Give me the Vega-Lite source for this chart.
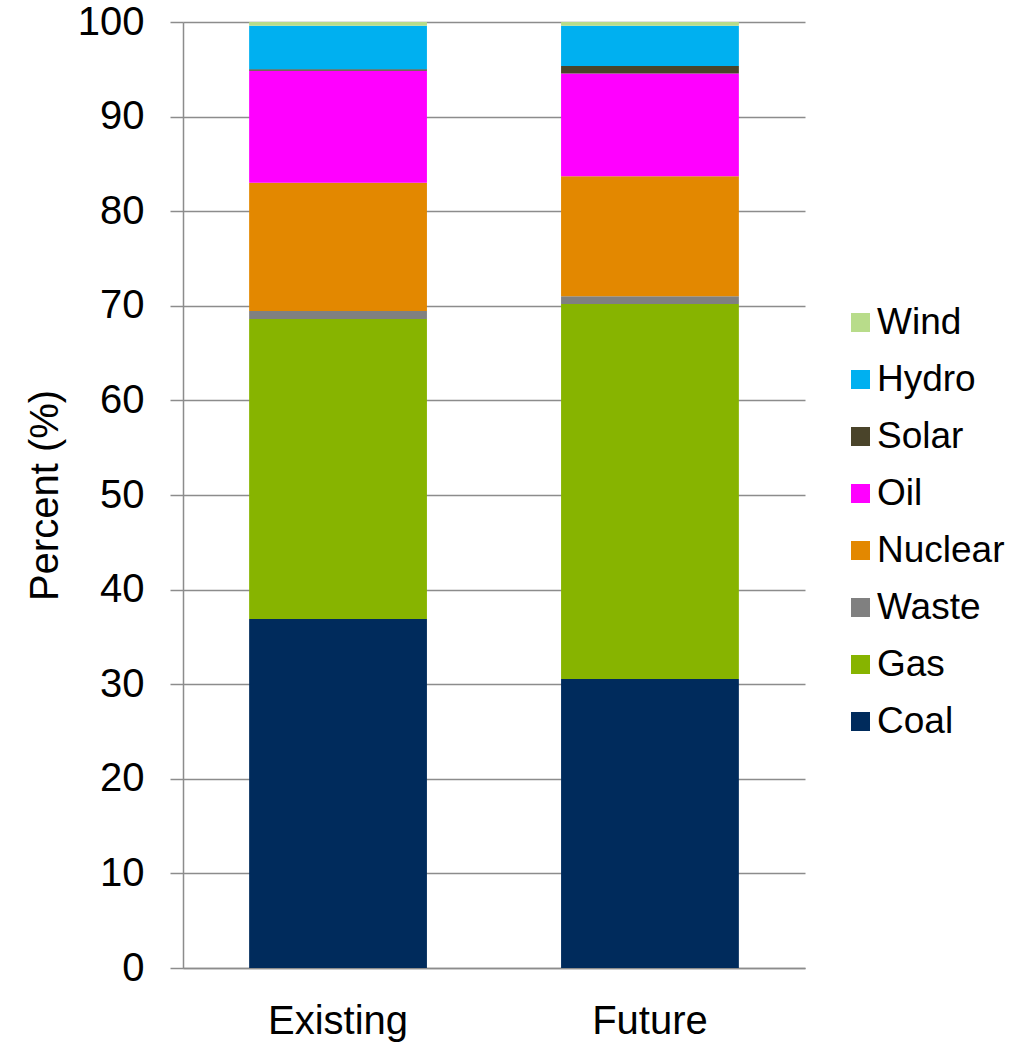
{
  "$schema": "https://vega.github.io/schema/vega-lite/v6.json",
  "width": 622,
  "height": 946,
  "autosize": {"type": "none"},
  "padding": {"left": 183, "top": 22, "right": 214, "bottom": 76},
  "background": "white",
  "config": {
    "font": "Liberation Sans",
    "view": {"stroke": null}
  },
  "data": {
    "values": [
      {"scenario": "Existing", "source": "Coal", "rank": 1, "percent": 36.9},
      {"scenario": "Existing", "source": "Gas", "rank": 2, "percent": 31.7},
      {"scenario": "Existing", "source": "Waste", "rank": 3, "percent": 0.85},
      {"scenario": "Existing", "source": "Nuclear", "rank": 4, "percent": 13.55},
      {"scenario": "Existing", "source": "Oil", "rank": 5, "percent": 11.85},
      {"scenario": "Existing", "source": "Solar", "rank": 6, "percent": 0.15},
      {"scenario": "Existing", "source": "Hydro", "rank": 7, "percent": 4.6},
      {"scenario": "Existing", "source": "Wind", "rank": 8, "percent": 0.4},
      {"scenario": "Future", "source": "Coal", "rank": 1, "percent": 30.55},
      {"scenario": "Future", "source": "Gas", "rank": 2, "percent": 39.65},
      {"scenario": "Future", "source": "Waste", "rank": 3, "percent": 0.8},
      {"scenario": "Future", "source": "Nuclear", "rank": 4, "percent": 12.7},
      {"scenario": "Future", "source": "Oil", "rank": 5, "percent": 10.85},
      {"scenario": "Future", "source": "Solar", "rank": 6, "percent": 0.8},
      {"scenario": "Future", "source": "Hydro", "rank": 7, "percent": 4.25},
      {"scenario": "Future", "source": "Wind", "rank": 8, "percent": 0.4}
    ]
  },
  "mark": {"type": "bar"},
  "encoding": {
    "x": {
      "field": "scenario",
      "type": "nominal",
      "sort": ["Existing", "Future"],
      "scale": {"paddingInner": 0.43, "paddingOuter": 0.212},
      "axis": {
        "title": null,
        "labelAngle": 0,
        "labelFontSize": 40,
        "labelColor": "black",
        "labelPadding": 33,
        "ticks": false,
        "domainColor": "#8c8c8c",
        "domainWidth": 1.5,
        "grid": false
      }
    },
    "y": {
      "field": "percent",
      "type": "quantitative",
      "stack": "zero",
      "scale": {"domain": [0, 100], "nice": false},
      "axis": {
        "title": "Percent (%)",
        "titleFontSize": 40,
        "titleFontWeight": "normal",
        "titleColor": "black",
        "titlePadding": 12,
        "values": [0, 10, 20, 30, 40, 50, 60, 70, 80, 90, 100],
        "labelFontSize": 40,
        "labelColor": "black",
        "labelPadding": 26,
        "tickSize": 13,
        "tickColor": "#8c8c8c",
        "tickWidth": 1.5,
        "domainColor": "#8c8c8c",
        "domainWidth": 1.5,
        "grid": true,
        "gridColor": "#8c8c8c",
        "gridWidth": 1.5
      }
    },
    "color": {
      "field": "source",
      "type": "nominal",
      "scale": {
        "domain": ["Wind", "Hydro", "Solar", "Oil", "Nuclear", "Waste", "Gas", "Coal"],
        "range": ["#B8DC8A", "#00B0F0", "#4A442A", "#FF00FF", "#E38800", "#808080", "#87B400", "#002B5C"]
      },
      "legend": {
        "title": null,
        "orient": "none",
        "legendX": 659,
        "legendY": 282,
        "symbolType": "square",
        "symbolSize": 361,
        "symbolStrokeWidth": 0,
        "labelFontSize": 37,
        "labelColor": "black",
        "labelOffset": -2,
        "rowPadding": 19,
        "labelLimit": 300
      }
    },
    "order": {"field": "rank", "type": "quantitative", "sort": "ascending"}
  }
}
